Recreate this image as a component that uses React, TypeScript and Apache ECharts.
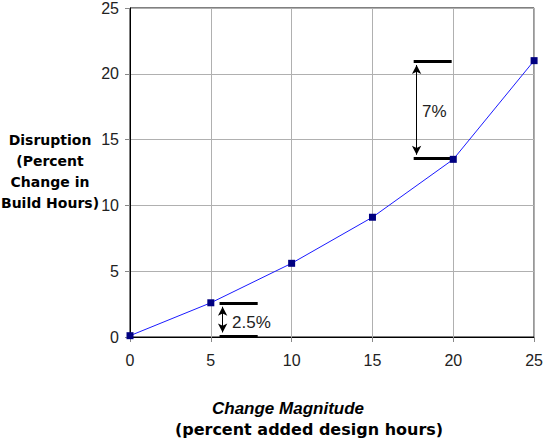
import React, { useEffect, useRef } from "react";
import * as echarts from "echarts";

const changeMagnitude = [0, 5, 10, 15, 20, 25];
const disruption = [0.1, 2.6, 5.6, 9.1, 13.5, 21.0];
const yAxisTitle = ["Disruption", "(Percent", "Change in", "Build Hours)"];
const xAxisTitle = "Change Magnitude";
const xAxisSubtitle = "(percent added design hours)";
const annoSmall = { x0: 5.54, x1: 7.9, ax: 5.73, lo: 0.05, hi: 2.6, label: "2.5%" };
const annoLarge = { x0: 17.55, x1: 19.9, ax: 17.73, lo: 13.55, hi: 20.97, label: "7%" };

export default function App() {
  const ref = useRef<HTMLDivElement>(null);
  useEffect(() => {
    const chart = echarts.init(ref.current!, undefined, { renderer: "svg" });
    const font = "'Liberation Sans', Arial, sans-serif";
    const wide = "'DejaVu Sans', sans-serif";
    const barStyle = { width: 3, color: "#000", type: "solid" };
    const arrowStyle = { width: 1, color: "#000", type: "solid" };
    const bar = (a: any, y: number) => [
      { coord: [a.x0, y], symbol: "none", lineStyle: barStyle },
      { coord: [a.x1, y], symbol: "none" },
    ];
    const arrow = (a: any) => [
      { coord: [a.ax, a.hi - 0.3], symbol: "arrow", symbolSize: [7, 9], lineStyle: arrowStyle },
      { coord: [a.ax, a.lo + 0.3], symbol: "arrow", symbolSize: [7, 9] },
    ];
    chart.setOption({
      animation: false,
      backgroundColor: "#fff",
      grid: { left: 130, right: 10, top: 6, bottom: 106, show: true, borderColor: "#000", borderWidth: 1 },
      xAxis: {
        type: "value",
        min: 0,
        max: 25,
        interval: 5,
        axisLine: { show: true, onZero: false, lineStyle: { color: "#000", width: 1 } },
        axisTick: { show: true, length: 5, lineStyle: { color: "#888" } },
        axisLabel: { fontSize: 16, color: "#222", fontFamily: font, margin: 15 },
        splitLine: { show: true, lineStyle: { color: "#b0b0b0", width: 1 } },
      },
      yAxis: {
        type: "value",
        min: 0,
        max: 25,
        interval: 5,
        axisLine: { show: true, lineStyle: { color: "#000", width: 1 } },
        axisTick: { show: true, length: 5, lineStyle: { color: "#888" } },
        axisLabel: { fontSize: 16, color: "#222", fontFamily: font, margin: 11 },
        splitLine: { show: true, lineStyle: { color: "#b0b0b0", width: 1 } },
      },
      series: [
        {
          type: "line",
          data: changeMagnitude.map((x, i) => [x, disruption[i]]),
          symbol: "rect",
          symbolSize: 7,
          lineStyle: { color: "#1a1aff", width: 1 },
          itemStyle: { color: "#000080" },
          z: 5,
          markLine: {
            silent: true,
            symbol: "none",
            label: { show: false },
            lineStyle: { color: "#000", type: "solid" },
            data: [
              bar(annoSmall, annoSmall.hi),
              bar(annoSmall, annoSmall.lo),
              bar(annoLarge, annoLarge.hi),
              bar(annoLarge, annoLarge.lo),
              arrow(annoSmall),
              arrow(annoLarge),
            ],
          },
        },
      ],
      graphic: [
        {
          type: "text",
          x: 50,
          y: 129,
          z: 10,
          style: {
            text: yAxisTitle.join("\n"),
            font: `bold 14px ${wide}`,
            fill: "#000",
            align: "center",
            verticalAlign: "top",
            lineHeight: 21,
          },
        },
        {
          type: "text",
          x: 288,
          y: 408,
          style: { text: xAxisTitle, font: `italic bold 17px ${font}`, fill: "#000", align: "center", verticalAlign: "middle" },
        },
        {
          type: "text",
          x: 309,
          y: 429,
          style: { text: xAxisSubtitle, font: `bold 16px ${wide}`, fill: "#000", align: "center", verticalAlign: "middle" },
        },
        {
          type: "text",
          x: 232,
          y: 322,
          style: { text: annoSmall.label, font: `17px ${font}`, fill: "#222", verticalAlign: "middle" },
        },
        {
          type: "text",
          x: 422,
          y: 111,
          style: { text: annoLarge.label, font: `17px ${font}`, fill: "#222", verticalAlign: "middle" },
        },
      ],
    });
    return () => chart.dispose();
  }, []);
  return <div ref={ref} style={{ width: 546, height: 443, position: "absolute", left: 0, top: 0 }} />;
}
